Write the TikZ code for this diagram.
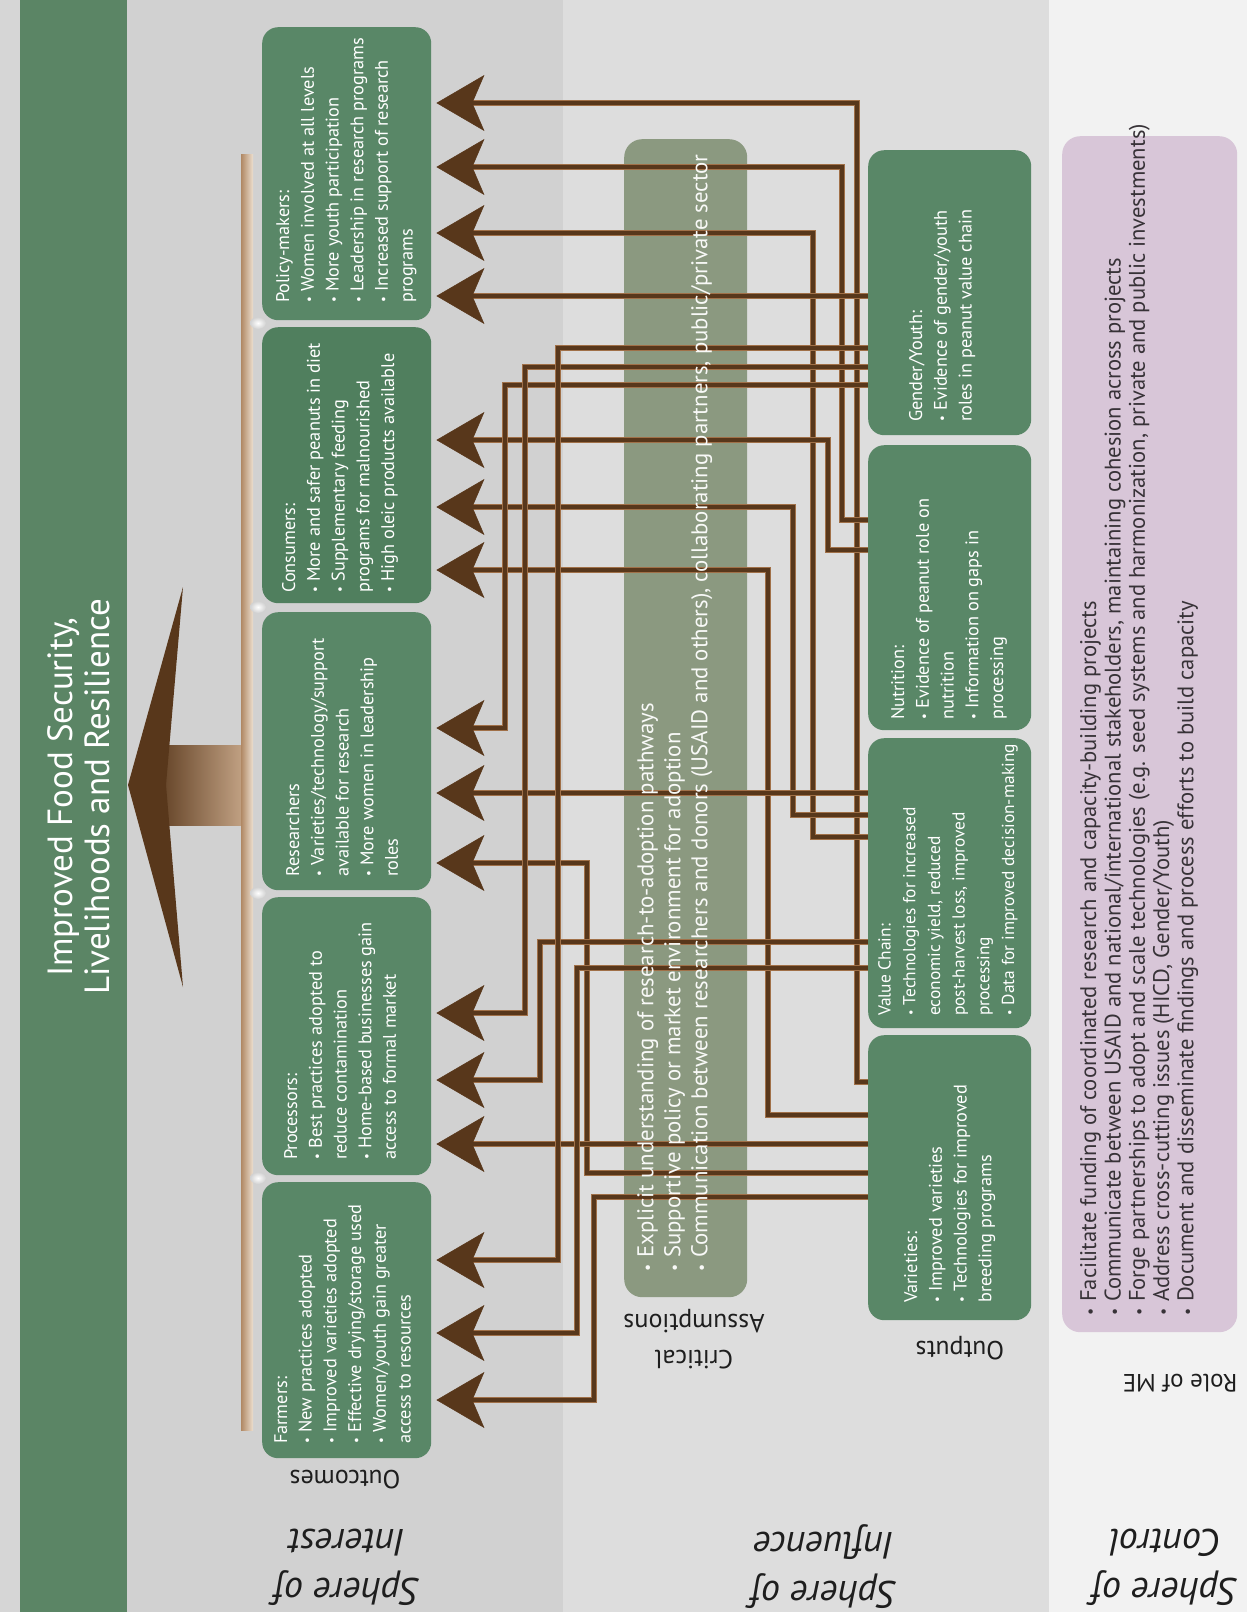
\documentclass[tikz,border=0pt]{standalone}
\usepackage{fontspec}
\setmainfont{PT Sans}
\usetikzlibrary{arrows.meta,shadings}
\definecolor{boxgreen}{RGB}{89,135,103}
\definecolor{boxgreenb}{RGB}{80,127,94}
\definecolor{bargreen}{RGB}{91,133,101}
\definecolor{assum}{RGB}{139,153,128}
\definecolor{lilac}{RGB}{216,198,216}
\definecolor{bgint}{RGB}{209,209,209}
\definecolor{bginf}{RGB}{221,221,221}
\definecolor{bgctl}{RGB}{242,242,242}
\definecolor{bgleft}{RGB}{214,214,214}
\definecolor{brownc}{RGB}{88,55,27}
\definecolor{browno}{RGB}{160,112,72}
\definecolor{tanl}{RGB}{236,222,206}
\definecolor{tand}{RGB}{176,136,100}
\definecolor{labelc}{RGB}{30,30,30}
\definecolor{roletext}{RGB}{55,50,55}
\newcommand\bl{\raisebox{0.05ex}{\scalebox{0.7}{\textbullet}}\kern0.3em}
\begin{document}
\begin{tikzpicture}[x=1pt,y=-1pt,
  obox/.style={fill=boxgreen, rounded corners=16pt, anchor=north west, inner sep=0pt, minimum width=169pt},
  pbox/.style={fill=boxgreen, rounded corners=16pt, anchor=north west, inner sep=0pt, minimum width=163pt},
  btxt/.style={rotate=90, anchor=north west, inner sep=0pt, align=left, text=white, font=\fontsize{18.3}{24.7}\selectfont},
  lbl/.style={rotate=180, inner sep=0pt, align=center, text=labelc, font=\fontsize{26}{36}\selectfont},
  rolelbl/.style={rotate=180, inner sep=0pt, text=labelc, font=\fontsize{25}{30}\selectfont},
  sph/.style={rotate=180, inner sep=0pt, align=center, text=labelc, font=\itshape\fontsize{38}{49}\selectfont},
  glint/.style={inner color=white, outer color=bgint},
  conn/.style={draw=brownc, line width=4.5pt, line join=miter,
    -{Stealth[length=48pt,width=56pt,inset=12pt,line width=0.5pt]}, shorten >=5pt,
    preaction={draw=browno, line width=6.5pt, -, shorten >=30pt}}
]
\useasboundingbox (0,0) rectangle (1247,1612);
% background bands
\fill[bgleft] (0,0) rectangle (20,1612);
\fill[bargreen] (20,0) rectangle (127,1612);
\fill[bgint] (127,0) rectangle (563,1612);
\fill[bginf] (563,0) rectangle (1049,1612);
\fill[bgctl] (1049,0) rectangle (1247,1612);

% title
\node[rotate=90, align=center, text=white, inner sep=0pt, font=\fontsize{35}{37}\selectfont] (title) at (79,797) {Improved Food Security,\\Livelihoods and Resilience};

% big arrow
\shade[left color=brownc, right color=tand!70!tanl] (150,745) rectangle (243,825);
\fill[brownc] (128,785) -- (183,587) -- (166,785) -- (183,987) -- cycle;
% bracket bar
\shade[left color=tand, right color=tanl] (241,154) rectangle (253,1430);
\foreach \gy in {323,607,893,1178}{
  \shade[glint] (258,\gy) ellipse (8pt and 6pt);
}

% outcome boxes
\node[obox, minimum height=293pt] (pol) at (262,27) {};
\node[obox, fill=boxgreenb, minimum height=276pt] (con) at (262,327) {};
\node[obox, minimum height=278pt] (res) at (262,612) {};
\node[obox, minimum height=278pt] (pro) at (262,897) {};
\node[obox, minimum height=276pt] (far) at (262,1182) {};

% assumptions box
\node[fill=assum, rounded corners=18pt, anchor=north west, inner sep=0pt, minimum width=123pt, minimum height=1158pt] (assm) at (624,139) {};

% output boxes
\node[pbox, minimum height=285pt] (gy) at (868,150) {};
\node[pbox, minimum height=285pt] (nut) at (868,445) {};
\node[pbox, minimum height=290pt] (vc) at (868,738) {};
\node[pbox, minimum height=285pt] (var) at (868,1035) {};

% role box
\node[fill=lilac, rounded corners=18pt, anchor=north west, inner sep=0pt, minimum width=175pt, minimum height=1196pt] (rolebox) at (1062,136) {};

% connectors
\draw[conn] (var.west |- 0,1082) -| (857,103) -- (pol.east |- 0,103);
\draw[conn] (nut.west |- 0,520) -| (842,167) -- (pol.east |- 0,167);
\draw[conn] (vc.west |- 0,837) -| (813,233) -- (pol.east |- 0,233);
\draw[conn] (gy.west |- 0,296) -- (pol.east |- 0,296);
\draw[conn] (nut.west |- 0,550) -| (828,440) -- (con.east |- 0,440);
\draw[conn] (vc.west |- 0,815) -| (793,507) -- (con.east |- 0,507);
\draw[conn] (var.west |- 0,1115) -| (768,570) -- (con.east |- 0,570);
\draw[conn] (gy.west |- 0,385) -| (505,728) -- (res.east |- 0,728);
\draw[conn] (vc.west |- 0,793) -- (res.east |- 0,793);
\draw[conn] (var.west |- 0,1173) -| (587,863) -- (res.east |- 0,863);
\draw[conn] (gy.west |- 0,367) -| (525,1013) -- (pro.east |- 0,1013);
\draw[conn] (vc.west |- 0,942) -| (540,1080) -- (pro.east |- 0,1080);
\draw[conn] (var.west |- 0,1144) -- (pro.east |- 0,1144);
\draw[conn] (gy.west |- 0,348) -| (558,1260) -- (far.east |- 0,1260);
\draw[conn] (vc.west |- 0,968) -| (577,1333) -- (far.east |- 0,1333);
\draw[conn] (var.west |- 0,1197) -| (594,1400) -- (far.east |- 0,1400);

% outcome texts
\node[btxt] (polt) at (276,303) {Policy-makers:\\\bl Women involved at all levels\\\bl More youth participation\\\bl Leadership in research programs\\\bl Increased support of research\\programs};
\node[btxt] (cont) at (282,593) {Consumers:\\\bl More and safer peanuts in diet\\\bl Supplementary feeding\\programs for malnourished\\\bl High oleic products available};
\node[btxt] (rest) at (286,877) {Researchers\\\bl Varieties/technology/support\\available for research\\\bl More women in leadership\\roles};
\node[btxt] (prot) at (284,1160) {Processors:\\\bl Best practices adopted to\\reduce contamination\\\bl Home-based businesses gain\\access to formal market};
\node[btxt] (fart) at (274,1444) {Farmers:\\\bl New practices adopted\\\bl Improved varieties adopted\\\bl Effective drying/storage used\\\bl Women/youth gain greater\\access to resources};

% assumptions text
\node[rotate=90, anchor=north west, inner sep=0pt, align=left, text=white!94!assum, font=\fontsize{22.8}{27}\selectfont] (assmt) at (637,1272) {\bl Explicit understanding of research-to-adoption pathways\\\bl Supportive policy or market environment for adoption\\\bl Communication between researchers and donors (USAID and others), collaborating partners, public/private sector};

% output texts
\node[btxt] (gyt) at (909,422) {Gender/Youth:\\\bl Evidence of gender/youth\\roles in peanut value chain};
\node[btxt] (nutt) at (891,720) {Nutrition:\\\bl Evidence of peanut role on\\nutrition\\\bl Information on gaps in\\processing};
\node[btxt, font=\fontsize{17.4}{24.7}\selectfont] (vct) at (878,1016) {Value Chain:\\\bl Technologies for increased\\economic yield, reduced\\post-harvest loss, improved\\processing\\\bl Data for improved decision-making};
\node[btxt] (vart) at (904,1303) {Varieties:\\\bl Improved varieties\\\bl Technologies for improved\\breeding programs};

% role text
\node[rotate=90, anchor=north west, inner sep=0pt, align=left, text=roletext, font=\fontsize{22.6}{24.3}\selectfont] (rolet) at (1080,1316) {\bl Facilitate funding of coordinated research and capacity-building projects\\\bl Communicate between USAID and national/international stakeholders, maintaining cohesion across projects\\\bl Forge partnerships to adopt and scale technologies (e.g. seed systems and harmonization, private and public investments)\\\bl Address cross-cutting issues (HICD, Gender/Youth)\\\bl Document and disseminate findings and process efforts to build capacity};

% labels
\node[lbl] (outcomes) at (345,1480) {Outcomes};
\node[lbl] (crit) at (694,1339) {Critical\\Assumptions};
\node[lbl] (outputs) at (960,1348) {Outputs};
\node[rolelbl] (role) at (1180,1383) {Role of ME};

\node[sph] (sint) at (347,1567) {Sphere of\\Interest};
\node[sph] (sinf) at (824,1567) {Sphere of\\Influence};
\node[sph] (sctl) at (1165,1567) {Sphere of\\Control};
\end{tikzpicture}
\end{document}
